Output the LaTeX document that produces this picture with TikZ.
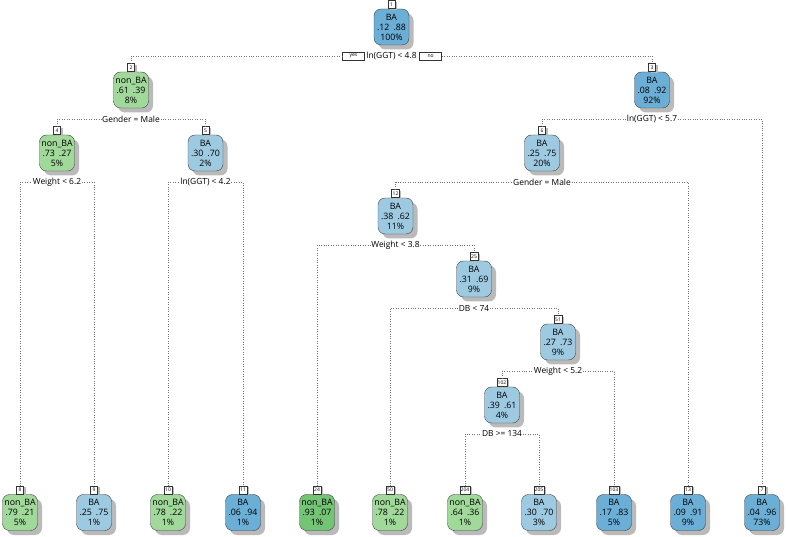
\documentclass[tikz,border=0pt]{standalone}
\usepackage{fontspec}
\setmainfont{Open Sans}
\usetikzlibrary{positioning,shadows}

\definecolor{badark}{RGB}{107,174,214}
\definecolor{balight}{RGB}{158,202,225}
\definecolor{nbdark}{RGB}{116,196,118}
\definecolor{nblight}{RGB}{161,217,155}

\begin{document}
\begin{tikzpicture}[x=1pt, y=-1pt,
    nodebox/.style={draw=black!75, rounded corners=7pt, minimum width=35pt, minimum height=36pt,
        inner sep=1.5pt, align=center, font=\fontsize{8.8}{10}\selectfont,
        drop shadow={shadow xshift=4.5pt, shadow yshift=-4.5pt, fill=black!27, opacity=1}},
    numbox/.style={draw=black!80, fill=white, font=\fontsize{5}{5}\selectfont, inner sep=1pt,
        minimum width=7pt, minimum height=8pt,
        drop shadow={shadow xshift=2pt, shadow yshift=-1pt, fill=black!27, opacity=1}},
    splitlab/.style={fill=white, inner sep=0.6pt, font=\fontsize{8.4}{10}\selectfont},
    yesno/.style={draw=black!80, fill=white, font=\fontsize{5}{5}\selectfont, inner sep=1pt,
        minimum width=22pt, minimum height=8pt},
    branch/.style={dotted, line width=0.45pt, black!55}]

    % Rahmen
    \useasboundingbox (0,0) rectangle (788,537);

    % Knoten des Baums
    \foreach \id/\x/\y/\num/\cls/\pa/\pb/\pct/\col in {
        n1/391.5/27/1/BA/.12/.88/100\%/badark,
        n2/131/90/2/non\_BA/.61/.39/8\%/nblight,
        n3/652/90/3/BA/.08/.92/92\%/badark,
        n4/57/153/4/non\_BA/.73/.27/5\%/nblight,
        n5/205.5/153/5/BA/.30/.70/2\%/balight,
        n6/542/153/6/BA/.25/.75/20\%/balight,
        n12/395.5/216/12/BA/.38/.62/11\%/balight,
        n25/474/279/25/BA/.31/.69/9\%/balight,
        n51/558/342/51/BA/.27/.73/9\%/balight,
        n102/502/405/102/BA/.39/.61/4\%/balight,
        n8/20/512.5/8/non\_BA/.79/.21/5\%/nblight,
        n9/94/512.5/9/BA/.25/.75/1\%/balight,
        n10/168/512.5/10/non\_BA/.78/.22/1\%/nblight,
        n11/243/512.5/11/BA/.06/.94/1\%/badark,
        n24/317/512.5/24/non\_BA/.93/.07/1\%/nbdark,
        n50/390/512.5/50/non\_BA/.78/.22/1\%/nblight,
        n204/465/512.5/204/non\_BA/.64/.36/1\%/nblight,
        n205/539/512.5/205/BA/.30/.70/3\%/balight,
        n103/614/512.5/103/BA/.17/.83/5\%/badark,
        n13/688/512.5/13/BA/.09/.91/9\%/badark,
        n7/762/512.5/7/BA/.04/.96/73\%/badark} {
        \node[nodebox, fill=\col] (\id) at (\x,\y) {\cls\\\pa\hspace{4pt}\pb\\\pct};
        \node[numbox, above=0pt of \id] (\id-l) {\num};
    }

    % Splits
    \node[splitlab] (s1) at (391.5,56) {ln(GGT) < 4.8};
    \node[yesno, left=1pt of s1] (yes) {yes};
    \node[yesno, right=2pt of s1] (no) {no};
    \node[splitlab] (s2) at (131,119) {Gender = Male};
    \node[splitlab] (s3) at (652,119) {ln(GGT) < 5.7};
    \node[splitlab] (s4) at (57,182) {Weight < 6.2};
    \node[splitlab] (s5) at (205.5,182) {ln(GGT) < 4.2};
    \node[splitlab] (s6) at (542,182) {Gender = Male};
    \node[splitlab] (s12) at (395.5,245) {Weight < 3.8};
    \node[splitlab] (s25) at (474,308) {DB < 74};
    \node[splitlab] (s51) at (558,371) {Weight < 5.2};
    \node[splitlab] (s102) at (502,434) {DB >= 134};

    % Aeste
    \draw[branch] (n2-l.north) |- (yes.west);
    \draw[branch] (no.east) -| (n3-l.north);
    \foreach \s/\a/\b in {s2/n4/n5, s3/n6/n7, s4/n8/n9, s5/n10/n11, s6/n12/n13,
        s12/n24/n25, s25/n50/n51, s51/n102/n103, s102/n204/n205} {
        \draw[branch] (\a-l.north) |- (\s.west);
        \draw[branch] (\s.east) -| (\b-l.north);
    }
\end{tikzpicture}
\end{document}
